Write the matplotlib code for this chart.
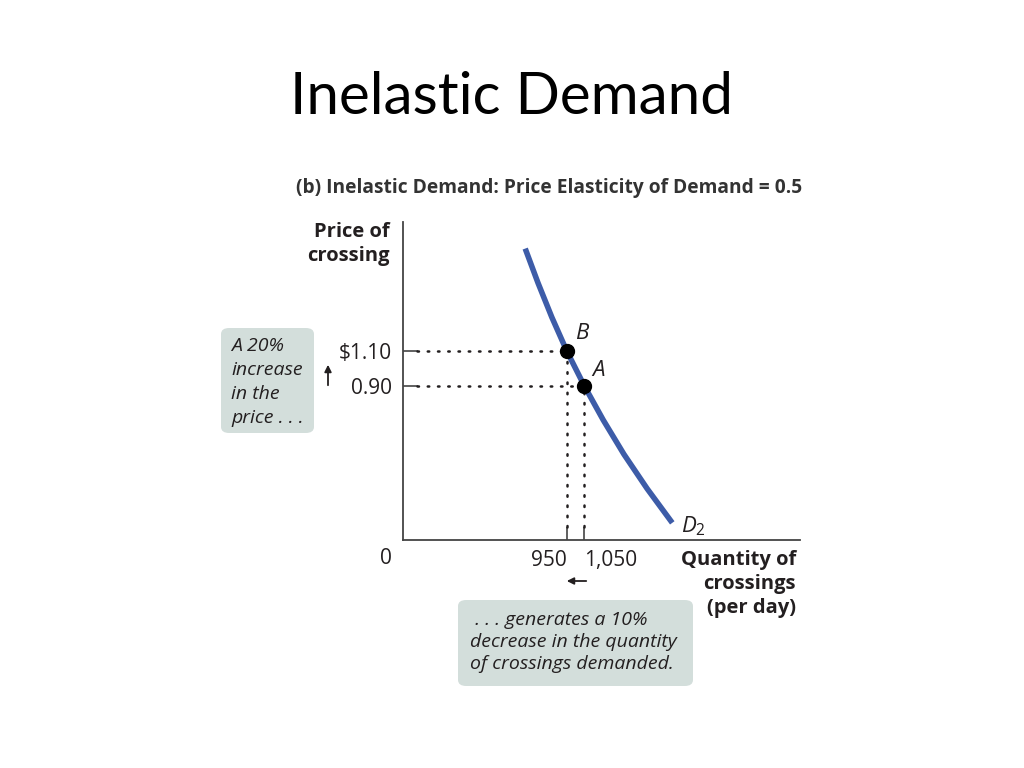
import matplotlib.pyplot as plt
from matplotlib.patches import FancyBboxPatch

# demand curve D2 (quantity per day, price)
curve_q = [708, 782, 862, 950, 1050, 1160, 1280, 1414, 1560]
curve_p = [1.70, 1.50, 1.30, 1.10, 0.90, 0.70, 0.50, 0.30, 0.10]

# the two labelled points
pt_names = ['B', 'A']
pt_q = [950, 1050]
pt_p = [1.10, 0.90]
y_tick_labels = ['0.90', '$1.10']
x_tick_labels = ['950', '1,050']

dark = '#231f20'
blue = '#3d5ca8'
box = '#d3dedb'

plt.rcParams['font.family'] = ['Open Sans', 'DejaVu Sans']
plt.rcParams['mathtext.fontset'] = 'custom'
plt.rcParams['mathtext.it'] = 'Open Sans:italic'
plt.rcParams['mathtext.rm'] = 'Open Sans'

fig = plt.figure(figsize=(10.24, 7.68), dpi=100)


def fx(x):
    return x / 1024


def fy(y):
    return 1 - y / 768


ax = fig.add_axes([fx(403), fy(540), (800 - 403) / 1024, (540 - 222) / 768])
ax.set_xlim(0, 2300)
ax.set_ylim(0, 1.855)
for s in ['top', 'right']:
    ax.spines[s].set_visible(False)
for s in ['left', 'bottom']:
    ax.spines[s].set_color('#444444')
    ax.spines[s].set_linewidth(1.3)

ax.set_yticks(sorted(pt_p))
ax.set_yticklabels(y_tick_labels, fontsize=15, color=dark)
ax.set_xticks(pt_q)
ax.set_xticklabels(x_tick_labels, fontsize=15, color=dark)
ax.tick_params(axis='y', direction='in', length=11, width=1.2, color='#444444', pad=8)
ax.tick_params(axis='x', direction='in', length=9.5, width=1.2, color='#444444', pad=7)
xl = ax.get_xticklabels()
xl[0].set_ha('right')
xl[1].set_ha('left')

# dotted guide lines
for q, p in zip(pt_q, pt_p):
    ax.plot([80, q], [p, p], color=dark, linestyle=(0, (0.6, 3.5)), lw=1.8,
            dash_capstyle='round')
    ax.plot([q, q], [0.075, p], color=dark, linestyle=(0, (0.6, 3.5)), lw=1.8,
            dash_capstyle='round')

ax.plot(curve_q, curve_p, color=blue, lw=4, solid_capstyle='butt',
        solid_joinstyle='round', zorder=3)
ax.plot(pt_q, pt_p, 'o', color='black', markersize=10, zorder=4)
ax.text(pt_q[0] + 45, pt_p[0] + 0.045, pt_names[0], fontsize=16, style='italic',
        color=dark, ha='left', va='bottom')
ax.text(pt_q[1] + 45, pt_p[1] + 0.03, pt_names[1], fontsize=16, style='italic',
        color=dark, ha='left', va='bottom')
ax.text(curve_q[-1] + 50, curve_p[-1] - 0.02, '$D_2$', fontsize=16, color=dark,
        ha='left', va='center')

# titles and axis labels
fig.text(fx(512), fy(98), 'Inelastic Demand', fontsize=42, family='Lato',
         ha='center', va='center', color='black')
fig.text(fx(296), fy(188), '(b) Inelastic Demand: Price Elasticity of Demand = 0.5',
         fontsize=13.8, weight='bold', color='#333333', ha='left', va='center')
fig.text(fx(390), fy(244), 'Price of\ncrossing', fontsize=14.5, weight='bold',
         color=dark, ha='right', va='center', linespacing=1.3)
fig.text(fx(796), fy(584), 'Quantity of\ncrossings\n(per day)', fontsize=14.5,
         weight='bold', color=dark, ha='right', va='center', linespacing=1.25)
fig.text(fx(386), fy(559), '0', fontsize=15, color=dark, ha='center', va='center')

# callout boxes
b1 = FancyBboxPatch((fx(221), fy(433)), fx(314 - 221), (433 - 328) / 768,
                    boxstyle='round,pad=0,rounding_size=0.008',
                    transform=fig.transFigure, facecolor=box, edgecolor='none')
fig.patches.append(b1)
fig.text(fx(231), fy(382), 'A 20%\nincrease\nin the\nprice . . .', fontsize=14,
         style='italic', color=dark, ha='left', va='center', linespacing=1.42)

b2 = FancyBboxPatch((fx(458), fy(686)), fx(693 - 458), (686 - 600) / 768,
                    boxstyle='round,pad=0,rounding_size=0.008',
                    transform=fig.transFigure, facecolor=box, edgecolor='none')
fig.patches.append(b2)
fig.text(fx(470), fy(642), ' . . . generates a 10%\ndecrease in the quantity\nof crossings demanded.',
         fontsize=14, style='italic', color=dark, ha='left', va='center',
         linespacing=1.3)

# direction arrows
ax.annotate('', xy=(fx(328), fy(362)), xytext=(fx(328), fy(388)),
            xycoords='figure fraction', textcoords='figure fraction',
            arrowprops=dict(arrowstyle='-|>', color=dark, lw=1.3, mutation_scale=10))
ax.annotate('', xy=(fx(564), fy(581)), xytext=(fx(589), fy(581)),
            xycoords='figure fraction', textcoords='figure fraction',
            arrowprops=dict(arrowstyle='-|>', color=dark, lw=1.3, mutation_scale=10))

fig.savefig('out.png', dpi=100)
